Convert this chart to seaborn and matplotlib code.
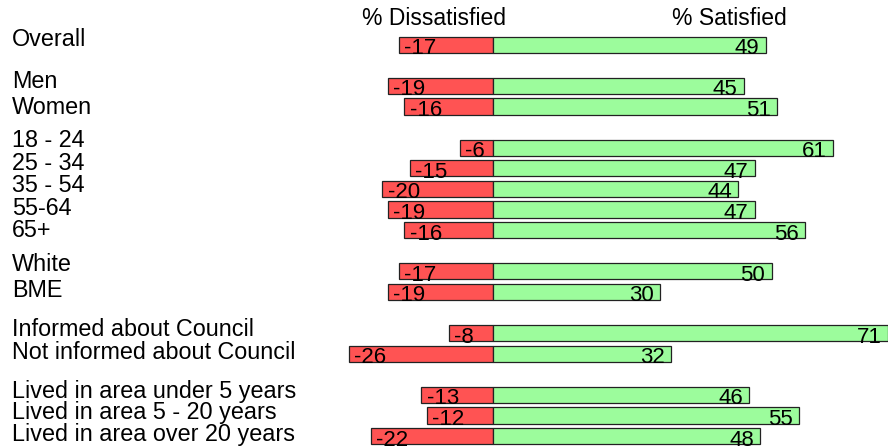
import matplotlib
matplotlib.use("Agg")
import matplotlib.pyplot as plt
import seaborn as sns
import pandas as pd

# Survey satisfaction by respondent group
groups = [
    "Overall",
    "Men", "Women",
    "18 - 24", "25 - 34", "35 - 54", "55-64", "65+",
    "White", "BME",
    "Informed about Council", "Not informed about Council",
    "Lived in area under 5 years", "Lived in area 5 - 20 years",
    "Lived in area over 20 years",
]
dissatisfied = [-17, -19, -16, -6, -15, -20, -19, -16, -17, -19, -8, -26, -13, -12, -22]
satisfied = [49, 45, 51, 61, 47, 44, 47, 56, 50, 30, 71, 32, 46, 55, 48]
headers = ["% Dissatisfied", "% Satisfied"]

# Layout: row slot for each group (blank slots separate the sections)
row_slot = [0, 2, 3, 5, 6, 7, 8, 9, 11, 12, 14, 15, 17, 18, 19]
# Baselines of the group labels, in pixels from the top of the figure
label_base_px = [46.5, 88, 114, 147, 169.5, 192, 215, 236.5, 271, 297,
                 336, 358.5, 398, 418.5, 441]

sns.set_style("white")
plt.rcParams["font.family"] = ["Liberation Sans", "DejaVu Sans"]

W, H = 888, 448
fig = plt.figure(figsize=(W / 100, H / 100), dpi=100)
ax = fig.add_axes([0, 0, 1, 1])

df = pd.DataFrame({"group": groups, "slot": row_slot,
                   "dis": dissatisfied, "sat": satisfied})

RED = "#FF5353"
GREEN = "#9CFC9C"
EDGE = "#222222"

sns.barplot(data=df, x="dis", y="slot", orient="y", native_scale=True,
            color=RED, saturation=1, width=0.78, edgecolor=EDGE,
            linewidth=0.9, ax=ax)
sns.barplot(data=df, x="sat", y="slot", orient="y", native_scale=True,
            color=GREEN, saturation=1, width=0.78, edgecolor=EDGE,
            linewidth=0.9, ax=ax)

# Zero at x=493 px, 5.565 px per percentage point
x0_px, px_per = 493.3, 5.565
ax.set_xlim(-x0_px / px_per, (W - x0_px) / px_per)
y0_px, row_px = 44.7, 20.6
ax.set_ylim((H - y0_px) / row_px, -y0_px / row_px)
ax.set_axis_off()

# Value labels inside the ends of the bars
for s, d, v in zip(row_slot, dissatisfied, satisfied):
    ax.annotate(f"{d}", xy=(d, s), xytext=(4.0, -6.9), textcoords="offset points",
                ha="left", va="baseline", fontsize=16, color="black")
    ax.annotate(f"{v}", xy=(v, s), xytext=(-4.6, -6.9), textcoords="offset points",
                ha="right", va="baseline", fontsize=16, color="black")

# Group labels on the left
for name, by in zip(groups, label_base_px):
    fig.text(12 / W, 1 - by / H, name, ha="left", va="baseline",
             fontsize=16.8, color="black")

# Column headers
for txt, cx in zip(headers, [433.5, 729.5]):
    fig.text(cx / W, 1 - 25 / H, txt, ha="center", va="baseline",
             fontsize=16.5, color="black")

fig.savefig("out.png", dpi=100)
